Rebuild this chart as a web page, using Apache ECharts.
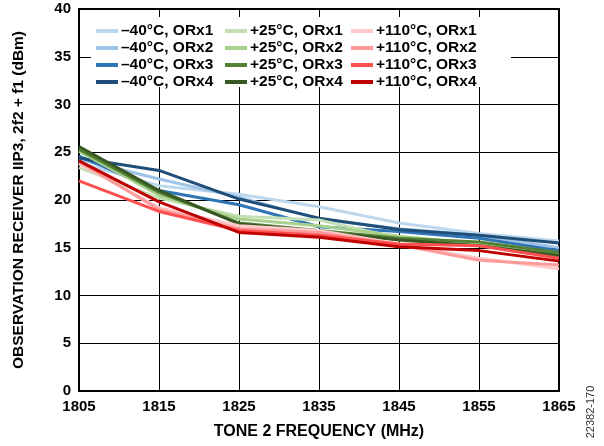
<!DOCTYPE html>
<html><head><meta charset="utf-8">
<script src="https://cdn.jsdelivr.net/npm/echarts@6/dist/echarts.min.js"></script>
<style>html,body{margin:0;padding:0;background:#fff}#c{width:604px;height:446px}</style>
</head><body><div id="c"></div>
<script>
const categories = ['1805','1815','1825','1835','1845','1855','1865'];
const yTicks = [0,5,10,15,20,25,30,35,40];

const m40_orx1 = [23.9, 21.5, 20.6, 19.3, 17.6, 16.5, 15.7];
const m40_orx2 = [24.3, 22.2, 20.3, 18.0, 17.0, 16.3, 15.0];
const m40_orx3 = [24.6, 21.0, 19.5, 17.2, 16.7, 16.0, 14.7];
const m40_orx4 = [24.4, 23.1, 20.1, 18.1, 16.9, 16.3, 15.5];

const p25_orx1 = [23.4, 20.2, 18.3, 17.9, 16.0, 15.5, 14.1];
const p25_orx2 = [25.1, 20.5, 18.0, 17.3, 16.2, 15.4, 14.3];
const p25_orx3 = [25.3, 20.8, 17.6, 16.8, 16.0, 15.6, 14.5];
const p25_orx4 = [25.6, 21.0, 17.5, 16.7, 15.8, 15.2, 14.2];

const p110_orx1 = [23.8, 19.2, 17.3, 16.8, 15.4, 13.9, 12.8];
const p110_orx2 = [24.0, 19.0, 17.0, 16.6, 15.3, 13.7, 13.2];
const p110_orx3 = [22.0, 18.8, 16.8, 16.3, 15.4, 15.2, 13.9];
const p110_orx4 = [24.1, 19.8, 16.6, 16.1, 15.1, 14.7, 13.6];

const names = [
  ['–40°C, ORx1','–40°C, ORx2','–40°C, ORx3','–40°C, ORx4'],
  ['+25°C, ORx1','+25°C, ORx2','+25°C, ORx3','+25°C, ORx4'],
  ['+110°C, ORx1','+110°C, ORx2','+110°C, ORx3','+110°C, ORx4']
];
const values = [
  [m40_orx1, m40_orx2, m40_orx3, m40_orx4],
  [p25_orx1, p25_orx2, p25_orx3, p25_orx4],
  [p110_orx1, p110_orx2, p110_orx3, p110_orx4]
];
const colors = [
  ['#bdd7ee','#9dc3e6','#2e75b6','#1f4e79'],
  ['#c5e0b4','#a9d18e','#548235','#385723'],
  ['#ffc9c9','#ff9a9a','#ff4f4f','#c00000']
];

const font = 'Liberation Sans, Arial, sans-serif';
const series = [];
for (let g = 0; g < 3; g++) for (let i = 0; i < 4; i++) {
  series.push({
    name: names[g][i], type: 'line', data: values[g][i],
    symbol: 'none', lineStyle: {width: 3, color: colors[g][i]},
    itemStyle: {color: colors[g][i]}, z: 2 + g
  });
}
const legendLefts = [96, 225, 351];
const legends = legendLefts.map((l, g) => ({
  left: l, top: 23, orient: 'vertical', itemGap: 1, itemWidth: 22, itemHeight: 4,
  icon: 'rect', padding: 0, selectedMode: false, z: 6,
  textStyle: {fontFamily: font, fontWeight: 'bold', fontSize: 15.5, color: '#000', padding: [0,0,0,-2]},
  data: names[g]
}));

const chart = echarts.init(document.getElementById('c'), null, {renderer: 'canvas'});
chart.setOption({
  animation: false,
  backgroundColor: '#fff',
  grid: {left: 79, right: 45, top: 9, bottom: 55, show: true, borderColor: '#000', borderWidth: 2},
  legend: legends,
  graphic: [
    {type: 'rect', shape: {x: 91, y: 17, width: 420, height: 70}, style: {fill: '#fff'}, z: 5},
    {type: 'text', x: 591, y: 412, rotation: Math.PI/2, style: {text: '22382-170', font: '11px ' + font, fill: '#333', align: 'center', verticalAlign: 'middle'}}
  ],
  xAxis: {
    type: 'category', data: categories, boundaryGap: false,
    name: 'TONE 2 FREQUENCY (MHz)', nameLocation: 'middle', nameGap: 33,
    nameTextStyle: {fontFamily: font, fontWeight: 'bold', fontSize: 16, color: '#000'},
    axisLine: {lineStyle: {color: '#000', width: 2}},
    axisTick: {show: false},
    axisLabel: {fontFamily: font, fontWeight: 'bold', fontSize: 15, color: '#000', margin: 8},
    splitLine: {show: true, lineStyle: {color: '#000', width: 1}}
  },
  yAxis: {
    type: 'value', min: 0, max: 40, interval: 5,
    name: 'OBSERVATION RECEIVER IIP3, 2f2 + f1 (dBm)', nameLocation: 'middle', nameGap: 52,
    nameTextStyle: {fontFamily: font, fontWeight: 'bold', fontSize: 15.5, color: '#000'},
    axisLine: {show: true, lineStyle: {color: '#000', width: 2}},
    axisTick: {show: false},
    axisLabel: {fontFamily: font, fontWeight: 'bold', fontSize: 15, color: '#000', margin: 8,
      formatter: v => yTicks.includes(v) ? String(v) : ''},
    splitLine: {show: true, lineStyle: {color: '#000', width: 1}}
  },
  series: series
});
</script></body></html>
